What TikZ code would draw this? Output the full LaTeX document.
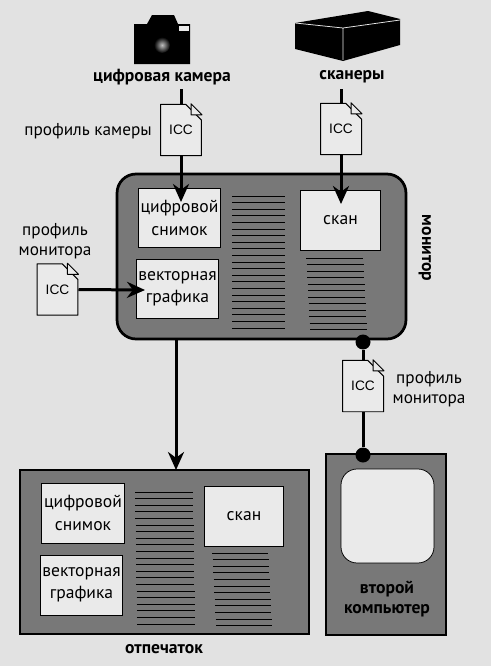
\documentclass[tikz,border=0pt]{standalone}
\usepackage{fontspec}
\setmainfont{PT Sans}
\newfontfamily\iccfont{Liberation Sans}
\usetikzlibrary{arrows.meta,shapes.misc}
\definecolor{paper}{HTML}{E2E2E2}
\definecolor{panel}{HTML}{787878}
\definecolor{sheet}{HTML}{EAEAEA}
\tikzset{
  wire/.style={line width=0.6mm, black},
  panelbox/.style={draw=black, line width=0.55mm, fill=panel, inner sep=0pt},
  picbox/.style={draw=black, line width=0.2mm, fill=sheet, inner sep=0pt, align=center,
    minimum width=16.6mm, minimum height=12mm, font=\fontsize{10}{12.6}\selectfont},
  iccdoc/.style={draw=black, line width=0.2mm, fill=sheet, inner sep=0pt, line join=round,
    chamfered rectangle, chamfered rectangle corners=north east,
    chamfered rectangle xsep=2.2mm, chamfered rectangle ysep=2.2mm,
    minimum width=8.2mm, minimum height=10.3mm, font=\iccfont\fontsize{7.8}{10}\selectfont},
  doclabel/.style={align=center, inner sep=0pt, font=\fontsize{9.8}{11.6}\selectfont},
  headlabel/.style={align=center, inner sep=0pt, font=\bfseries\fontsize{10}{11.6}\selectfont},
  joint/.style={circle, fill=black, inner sep=0pt, minimum size=3mm},
}
% Складка на уголке профиля
\newcommand{\iccfold}[1]{
  \draw[black, line width=0.2mm, line join=round, fill=sheet] ([xshift=-2.2mm]#1.east |- #1.north)
    -- ([xshift=-2.2mm,yshift=-2.2mm]#1.east |- #1.north)
    -- ([yshift=-2.2mm]#1.east |- #1.north) -- cycle;
}
% Строки текста: x слева, x справа, y сверху, шаг, наклон, число
\newcommand{\textrows}[6]{
  \foreach \i in {1,...,#6}
    \draw[black, line width=0.2mm] ({#1+#5*\i/#6},{#3+#4*(\i-1)}) -- ({#2+#5*\i/#6},{#3+#4*(\i-1)});
}
\begin{document}
\begin{tikzpicture}[x=0.02cm, y=-0.02cm, >={Stealth[length=3.6mm, width=3.2mm]}]
\useasboundingbox (0,0) rectangle (491,666);
\fill[paper] (0,0) rectangle (491,666);
% Камера
\fill[black] (134,24) -- (147,24) -- (152,15) -- (174,15) -- (178,24) -- (190,24) -- (190,64) -- (134,64) -- cycle;
\fill[sheet] (179,26) rectangle (189,31);
\shade[inner color=white!75!black, outer color=black] (162,45) circle (8);
\node[headlabel] (cameralabel) at (162,77) {цифровая камера};
% Сканер
\fill[black] (295,23) -- (368,11) -- (400,19) -- (400,45) -- (343,61) -- (295,49) -- cycle;
\draw[sheet, line width=0.15mm] (295,23) -- (343,28) -- (400,20) (343,28) -- (343,60);
\node[headlabel] (scannerlabel) at (352,77) {сканеры};
% Монитор
\node[panelbox, rounded corners=3.8mm, minimum width=57.8mm, minimum height=33mm] (monitor) at (261.5,256.5) {};
\node[picbox] (photo) at (179.5,218) {цифровой\\снимок};
\node[picbox] (vector) at (177.5,289) {векторная\\графика};
\node[picbox, minimum width=16.2mm] (scan) at (340.5,220.5) {скан};
\textrows{232}{285}{196}{6.6}{0}{21}
\textrows{306}{363}{258}{6.5}{4}{12}
\node[headlabel, rotate=-90] (monitorlabel) at (425,248) {монитор};
% Профиль камеры
\node[iccdoc] (cameradoc) at (181,130) {ICC};
\iccfold{cameradoc}
\node[doclabel] (cameraprofile) at (88,131) {профиль камеры};
\coordinate (cameraout) at (181,89);
\coordinate (cameratip) at (181,202);
\draw[wire] (cameraout) -- (cameradoc.north);
\draw[wire, ->] (cameradoc.south) -- (cameratip);
% Профиль сканера
\node[iccdoc] (scannerdoc) at (341,129) {ICC};
\iccfold{scannerdoc}
\coordinate (scannerout) at (341,89);
\coordinate (scannertip) at (341,204);
\draw[wire] (scannerout) -- (scannerdoc.north);
\draw[wire, ->] (scannerdoc.south) -- (scannertip);
% Профиль монитора
\node[iccdoc] (monitordoc) at (57.5,289.5) {ICC};
\iccfold{monitordoc}
\node[doclabel] (monitorprofile) at (55,241) {профиль\\монитора};
\coordinate (vectortip) at (145,290);
\draw[wire, ->] (monitordoc.east) -- (vectortip);
% Отпечаток
\node[panelbox, minimum width=57.8mm, minimum height=32.8mm] (print) at (164.5,552) {};
\node[picbox] (printphoto) at (83,513) {цифровой\\снимок};
\node[picbox] (printvector) at (81.5,585) {векторная\\графика};
\node[picbox, minimum width=16mm] (printscan) at (244,516) {скан};
\textrows{135}{193}{492}{6.6}{2}{21}
\textrows{212}{268}{553}{6.6}{4}{12}
\node[headlabel] (printlabel) at (164,649) {отпечаток};
\coordinate (monitorout) at (176,339);
\coordinate (printin) at (176,470);
\draw[wire, ->] (monitorout) -- (printin);
% Второй компьютер
\node[panelbox, minimum width=24mm, minimum height=36.2mm] (second) at (386,544.5) {};
\node[draw=black, line width=0.15mm, fill=sheet, rounded corners=3.2mm, minimum width=18.6mm, minimum height=18.8mm, inner sep=0pt] (screen) at (387.5,516) {};
\node[headlabel] (secondlabel) at (387,599) {второй\\компьютер};
% Профиль второго монитора
\node[joint] (monitorjoint) at (363,342) {};
\node[joint] (secondjoint) at (363,455) {};
\node[iccdoc] (seconddoc) at (363,386) {ICC};
\iccfold{seconddoc}
\node[doclabel] (secondprofile) at (429,389) {профиль\\монитора};
\draw[wire] (monitorjoint) -- (seconddoc.north);
\draw[wire] (seconddoc.south) -- (secondjoint);
\end{tikzpicture}
\end{document}
